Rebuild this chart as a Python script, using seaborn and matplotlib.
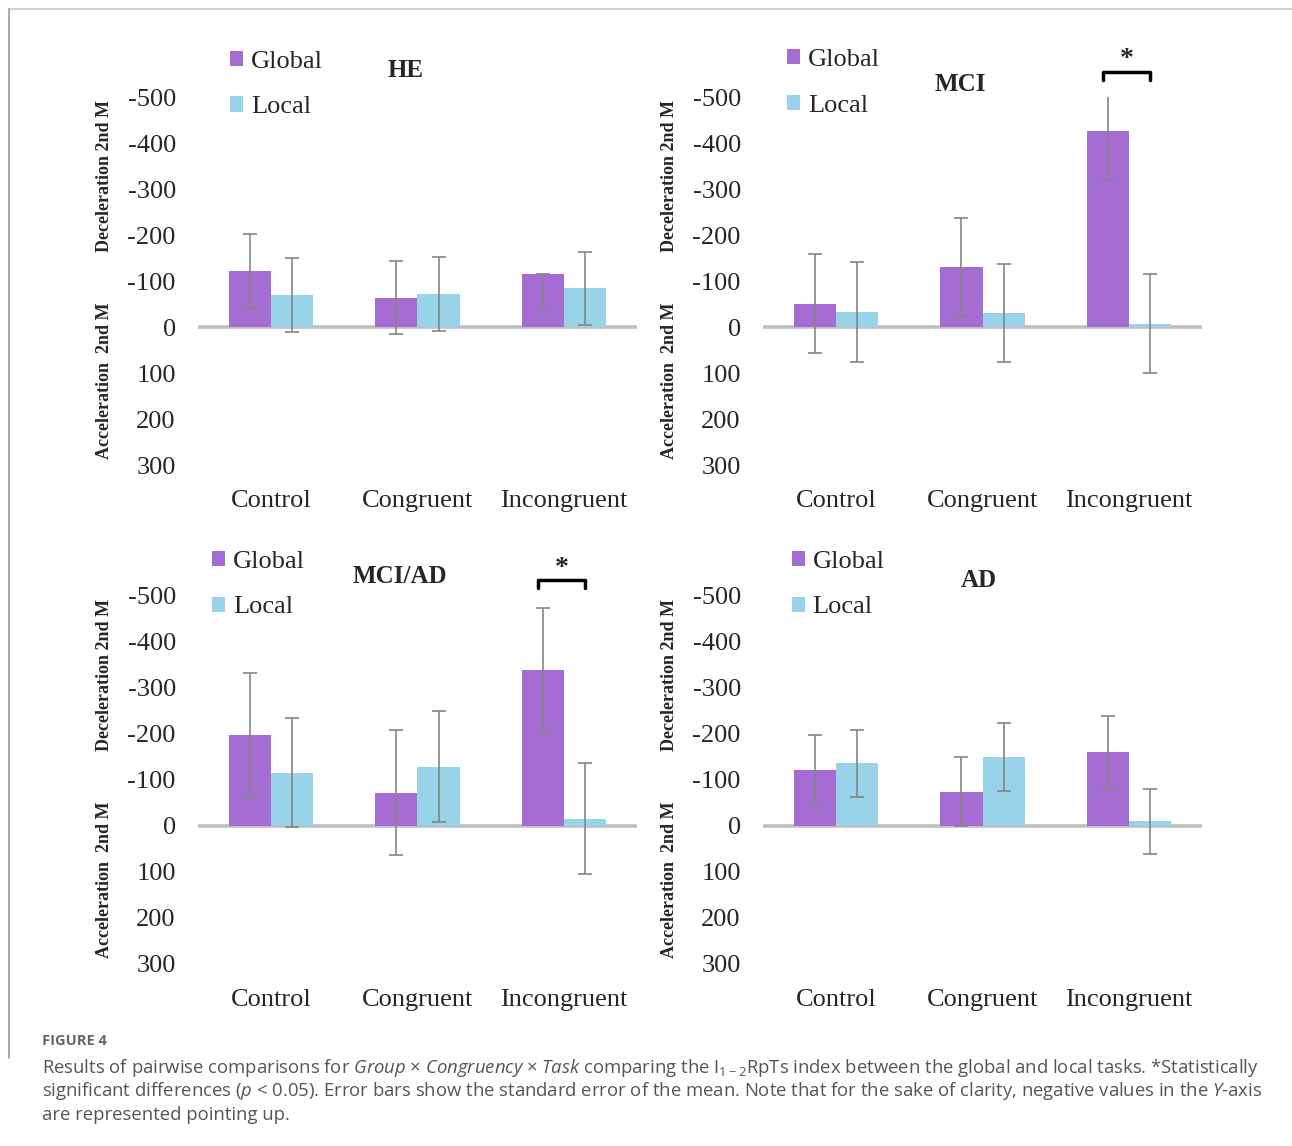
import matplotlib as mpl
mpl.use('Agg')
import numpy as np
import pandas as pd
import seaborn as sns
import matplotlib.pyplot as plt
from matplotlib.patches import Patch
from matplotlib.lines import Line2D

conditions = ["Control", "Congruent", "Incongruent"]
tasks = ["Global", "Local"]
groups = ["HE", "MCI", "MCI/AD", "AD"]

# mean index per condition (negative = deceleration, drawn pointing up)
he_global = [-122, -64, -115]
he_local = [-70, -72, -84]
mci_global = [-51, -130, -426]
mci_local = [-33, -30, -7]
mciad_global = [-197, -72, -339]
mciad_local = [-116, -129, -16]
ad_global = [-122, -75, -160]
ad_local = [-136, -150, -10]

# standard error of the mean
he_global_se = [80, 80, 78]
he_local_se = [80, 80, 80]
mci_global_se = [107, 107, 107]
mci_local_se = [108, 107, 108]
mciad_global_se = [136, 136, 136]
mciad_local_se = [118, 120, 120]
ad_global_se = [76, 75, 80]
ad_local_se = [73, 73, 71]

# significant Global vs Local pairs
significant = {"MCI": ["Incongruent"], "MCI/AD": ["Incongruent"]}

means = {"HE": (he_global, he_local), "MCI": (mci_global, mci_local),
         "MCI/AD": (mciad_global, mciad_local), "AD": (ad_global, ad_local)}
ses = {"HE": (he_global_se, he_local_se), "MCI": (mci_global_se, mci_local_se),
       "MCI/AD": (mciad_global_se, mciad_local_se), "AD": (ad_global_se, ad_local_se)}

rows = []
for g in groups:
    for ti, t in enumerate(tasks):
        for ci, c in enumerate(conditions):
            rows.append({"group": g, "condition": c, "task": t,
                         "value": means[g][ti][ci], "se": ses[g][ti][ci]})
df = pd.DataFrame(rows)

sns.set_theme(style="white")
plt.rcParams['font.family'] = ['Liberation Serif', 'DejaVu Serif']
plt.rcParams['axes.unicode_minus'] = False
plt.rcParams['mathtext.fontset'] = 'custom'
plt.rcParams['mathtext.rm'] = 'Open Sans'
plt.rcParams['mathtext.it'] = 'Open Sans:italic'

palette = {"Global": "#A56CD3", "Local": "#98D3EA"}

fig = plt.figure(figsize=(12.92, 11.46), dpi=100)
W, H = 1292, 1146

# panel boxes in pixels: left, right, top, bottom
boxes = {"HE": (198, 637, 97, 465), "MCI": (763, 1202, 97, 465),
         "MCI/AD": (198, 637, 596, 964), "AD": (763, 1202, 596, 964)}
title_pos = {"HE": (0.474, 1.072), "MCI": (0.449, 1.034),
             "MCI/AD": (0.46, 1.052), "AD": (0.492, 1.043)}
legend_pos = {"HE": (0.072, 1.126), "MCI": (0.055, 1.131),
              "MCI/AD": (0.031, 1.123), "AD": (0.065, 1.123)}
bracket_y = {"MCI": (-554, -536, -582), "MCI/AD": (-535, -518, -560)}

for g in groups:
    l, r, t, b = boxes[g]
    ax = fig.add_axes([l / W, 1 - b / H, (r - l) / W, (b - t) / H])
    sub = df[df.group == g]
    sns.barplot(data=sub, x="condition", y="value", hue="task", order=conditions,
                hue_order=tasks, palette=palette, width=0.575, errorbar=None,
                saturation=1, legend=False, ax=ax, zorder=2, linewidth=0)
    ax.axhline(0, color="#BFBFBF", lw=2.6, zorder=1)
    centers = {}
    for ti, t in enumerate(tasks):
        for ci, bar in enumerate(ax.containers[ti]):
            x = bar.get_x() + bar.get_width() / 2
            y = bar.get_height()
            se = ses[g][ti][ci]
            centers[(t, conditions[ci])] = x
            up = 0 if (g == "HE" and t == "Global" and ci == 2) else se
            ax.errorbar(x, y, yerr=[[up], [se]], color="#858585", lw=1.2,
                        capsize=5, capthick=1.2, zorder=3)
    ax.set_xlim(-0.5, 2.5)
    ax.set_ylim(300, -500)
    ax.set_yticks([-500, -400, -300, -200, -100, 0, 100, 200, 300])
    ax.set_xlabel("")
    ax.set_ylabel("")
    ax.tick_params(axis="y", labelsize=19, length=0, pad=16)
    ax.tick_params(axis="x", labelsize=19, length=0, pad=18)
    for s in ax.spines.values():
        s.set_visible(False)
    ax.text(title_pos[g][0], title_pos[g][1], g, transform=ax.transAxes,
            ha="center", va="center", fontsize=18, fontweight="bold")
    ax.text(-0.212, 0.785, "Deceleration 2nd M", transform=ax.transAxes, rotation=90,
            ha="center", va="center", fontsize=13, fontweight="bold")
    ax.text(-0.212, 0.23, "Acceleration  2nd M", transform=ax.transAxes, rotation=90,
            ha="center", va="center", fontsize=13, fontweight="bold")
    handles = [Patch(facecolor=palette[t], edgecolor="none", label=t) for t in tasks]
    ax.legend(handles=handles, loc="upper left", bbox_to_anchor=legend_pos[g],
              frameon=False, fontsize=19, handlelength=0.5, handleheight=0.5,
              handletextpad=0.3, labelspacing=0.9, borderpad=0, borderaxespad=0)
    for c in significant.get(g, []):
        x0 = centers[("Global", c)] - 0.03
        x1 = centers[("Local", c)]
        ytop, ylow, ystar = bracket_y[g]
        ax.plot([x0, x0, x1, x1], [ylow, ytop, ytop, ylow], color="black",
                lw=2.5, clip_on=False)
        ax.text((x0 + x1) / 2, ystar, "*", ha="center", va="center",
                fontsize=20, fontweight="bold", clip_on=False)

# frame around the figure image
fig.add_artist(Line2D([9 / W, 1], [1 - 9 / H, 1 - 9 / H], color="#CFCFCF", lw=1.5))
fig.add_artist(Line2D([9 / W, 9 / W], [1 - 9 / H, 1 - 1058 / H], color="#9A9A9A", lw=1.2))

cap_font = ['Open Sans', 'DejaVu Sans']
fig.text(42 / W, 1 - 1041 / H, "FIGURE 4", family=cap_font, fontsize=10.5,
         color="#666666", va="center", fontweight="bold")
lines = [
    r"Results of pairwise comparisons for $\mathit{Group}$ × $\mathit{Congruency}$ × $\mathit{Task}$ comparing the $\mathrm{I}_{1-2}$RpTs index between the global and local tasks. *Statistically",
    r"significant differences ($\mathit{p}$ < 0.05). Error bars show the standard error of the mean. Note that for the sake of clarity, negative values in the $\mathit{Y}$-axis",
    "are represented pointing up.",
]
for i, line in enumerate(lines):
    fig.text(42 / W, 1 - (1068 + 23.5 * i) / H, line, family=cap_font, fontsize=13.3,
             color="#555555", va="center")

fig.savefig("out.png", dpi=100)
